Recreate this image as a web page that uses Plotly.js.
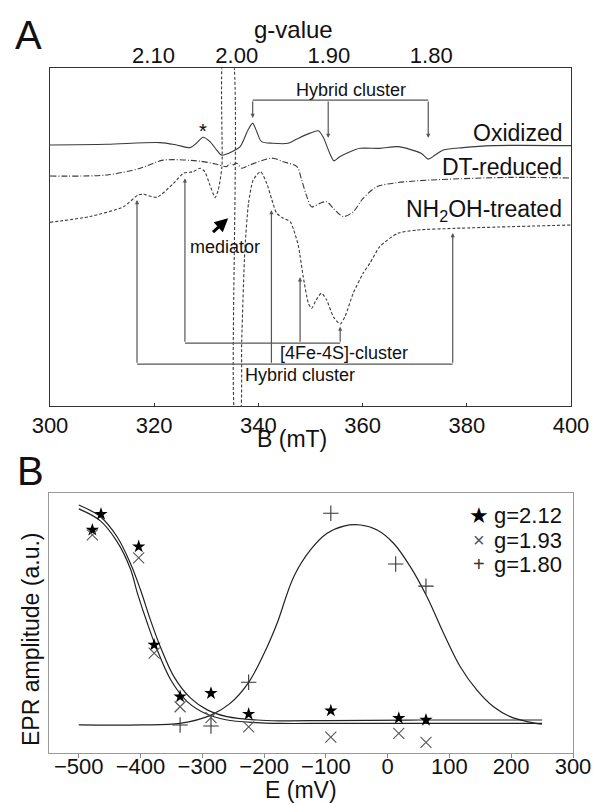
<!DOCTYPE html>
<html>
<head>
<meta charset="utf-8">
<script src="https://cdn.plot.ly/plotly-3.0.1.min.js"></script>
<style>html,body{margin:0;padding:0;background:#fff;}#chart{width:594px;height:803px;}</style>
</head>
<body>
<div id="chart"></div>
<script>
// ---------- Panel A: EPR spectra (B in mT, amplitude in a.u.) ----------
const oxB   = [300,310.9,321.1,324.3,326.9,328.1,329.4,330.7,332.0,332.9,333.9,334.9,336.5,338.0,338.9,339.7,340.6,342.8,345.7,347.3,349.9,351.5,352.4,353.7,354.5,355.6,357.6,359.5,363.3,366.7,369.1,371.3,372.6,373.9,375.5,379.3,384.8,400];
const oxAmp = [77.3,77.5,78.0,77.3,76.5,77.8,79.6,78.3,75.8,74.3,74.6,75.3,76.8,81.7,83.7,81.2,78.3,77.8,77.8,79.0,80.8,81.5,79.7,74.8,72.6,73.8,75.3,76.3,76.3,76.8,76.0,74.8,73.1,74.3,75.8,76.5,77.1,77.1];

const dtB   = [300,310.9,317.3,321.7,328.8,332.0,333.9,334.5,335.2,335.8,336.8,338.4,342.6,344.8,347.4,348.3,349.3,350.2,351.8,353.1,354.4,356.3,358.2,360.1,362.7,366.5,372.9,388.3,400];
const dtAmp = [68.1,68.4,70.4,72.8,72.5,71.6,70.9,71.9,71.4,71.9,70.4,71.4,73.4,72.3,70.9,66.9,62.0,59.0,60.0,60.5,58.5,56.1,57.5,61.5,64.9,66.1,66.9,67.7,67.5];

const nhB   = [300,307.7,314.1,316.9,317.9,320.5,323.7,325.6,327.5,328.8,329.7,330.7,331.7,332.3,333.0,333.4,334.9,335.6,336.4,336.8,337.4,338.1,339.0,340.4,341.6,342.6,343.5,344.8,346.1,347.0,347.7,348.6,349.6,350.2,351.1,352.1,353.1,354.4,355.7,356.6,358.2,360.1,361.4,363.3,366.7,370.4,377.6,400];
const nhAmp = [54.4,56.1,59.0,62.5,62.7,61.8,65.9,68.9,69.4,70.4,69.4,65.4,61.7,64.0,70.9,105.4,105.4,-4.1,-4.1,19.5,46.2,60.0,66.9,69.4,65.9,61.0,57.1,55.6,54.6,51.1,47.2,38.3,30.4,28.9,31.4,33.4,31.4,26.4,24.3,26.4,33.4,39.3,42.3,47.2,51.1,52.1,52.6,53.6];

const bTicks = [300,320,340,360,380,400];
const gValues = [2.10, 2.00, 1.90, 1.80];
const gTickText = ['2.10','2.00','1.90','1.80'];
const fieldTimesG = 671.7; // B (mT) * g at this microwave frequency

// ---------- Panel B: redox titration ----------
const eTicks = [-500,-400,-300,-200,-100,0,100,200,300];
const eStar = [-478,-464,-403,-378,-336,-286,-225,-92,18,62];
const ampStar = [85.9,92.0,79.5,41.7,21.8,23.1,15.1,16.4,13.5,12.8];
const eCross = [-478,-403,-378,-336,-286,-225,-92,18,62];
const ampCross = [84.0,75.2,38.5,17.9,13.7,10.2,6.2,7.7,4.2];
const ePlus = [-336,-286,-225,-92,13,62];
const ampPlus = [10.9,10.5,27.3,92.3,72.8,64.3];

const fitE1 = [-500,-465,-438,-416.5,-400,-384,-368,-346,-319,-292,-260,-211,-174,-100,50,250];
const fitA1 = [95.5,91.0,83.3,73.1,62.8,51.3,41.0,29.5,21.2,16.7,14.1,12.8,12.5,12.6,12.8,12.8];
const fitE2 = [-500,-465,-438,-416.5,-405,-389,-373,-351,-324,-294,-262,-213,-174,-100,50,250];
const fitA2 = [94.0,89.4,81.4,71.0,61.5,50.0,39.7,28.2,19.8,15.2,12.9,11.8,11.5,11.5,11.5,11.5];
const fitE3 = [-500,-400,-336,-286,-255,-225,-195,-179,-152,-125,-98,-71,-44,-17,9.5,36.6,63.6,90.5,117.5,144.5,171.4,198.4,225.4,249.7];
const fitA3 = [10.9,10.9,11.5,14.7,19.2,27.3,41.0,50.0,67.9,78.2,84.6,87.4,87.8,85.9,80.8,71.8,60.2,46.2,33.3,24.3,17.9,14.1,12.2,11.2];

const seriesNames = ['g=2.12','g=1.93','g=1.80'];
const legendGlyphs = ['\u2605','\u00D7','+'];
const seriesColors = ['#000','#555','#333'];

const W = 594, H = 803;
const px = v => v / W, py = v => 1 - v / H;
const FONT = 'Liberation Sans, Arial, sans-serif';
const LC = '#3a3a3a';

const traces = [
  {x: oxB, y: oxAmp, xaxis:'x', yaxis:'y', mode:'lines', line:{color:LC, width:1.1, shape:'spline', smoothing:0.8}, showlegend:false, hoverinfo:'skip'},
  {x: dtB, y: dtAmp, xaxis:'x', yaxis:'y', mode:'lines', line:{color:LC, width:1.1, dash:'6px,2px,1px,2px', shape:'spline', smoothing:0.8}, showlegend:false, hoverinfo:'skip'},
  {x: nhB, y: nhAmp, xaxis:'x', yaxis:'y', mode:'lines', line:{color:LC, width:1.1, dash:'3px,2px', shape:'spline', smoothing:0.6}, showlegend:false, hoverinfo:'skip'},
  {x: [300,400], y:[0,0], xaxis:'x2', yaxis:'y', mode:'lines', line:{width:0}, showlegend:false, hoverinfo:'skip'},
  {x: [-549,300], y:[0,0], xaxis:'x4', yaxis:'y2', mode:'lines', line:{width:0}, showlegend:false, hoverinfo:'skip'},
  {x: fitE1, y: fitA1, xaxis:'x3', yaxis:'y2', mode:'lines', line:{color:'#222', width:1.2, shape:'spline'}, showlegend:false, hoverinfo:'skip'},
  {x: fitE2, y: fitA2, xaxis:'x3', yaxis:'y2', mode:'lines', line:{color:'#222', width:1.2, shape:'spline'}, showlegend:false, hoverinfo:'skip'},
  {x: fitE3, y: fitA3, xaxis:'x3', yaxis:'y2', mode:'lines', line:{color:'#222', width:1.2, shape:'spline'}, showlegend:false, hoverinfo:'skip'},
  {x: eStar, y: ampStar, xaxis:'x3', yaxis:'y2', mode:'markers', name: seriesNames[0], showlegend:false, marker:{symbol:'star', size:10, color:seriesColors[0]}},
  {x: eCross, y: ampCross, xaxis:'x3', yaxis:'y2', mode:'markers', name: seriesNames[1], showlegend:false, marker:{symbol:'x-thin-open', size:11, color:seriesColors[1], line:{width:1.1, color:seriesColors[1]}}},
  {x: ePlus, y: ampPlus, xaxis:'x3', yaxis:'y2', mode:'markers', name: seriesNames[2], showlegend:false, marker:{symbol:'cross-thin-open', size:11, color:seriesColors[2], line:{width:1.1, color:seriesColors[2]}}}
];

const ann = [];
function txt(x, y, text, size, opts) {
  ann.push(Object.assign({x:x, y:y, text:text, showarrow:false, xanchor:'center', yanchor:'middle',
    font:{family:FONT, size:size, color:'#111'}}, opts||{}));
}
function arrow(xTip, yTip, xTail, yTail, opts) {
  ann.push(Object.assign({xref:'x', yref:'y', axref:'x', ayref:'y', x:xTip, y:yTip, ax:xTail, ay:yTail, text:'', showarrow:true,
    arrowhead:2, arrowsize:0.7, arrowwidth:1.2, arrowcolor:'#555'}, opts||{}));
}
const P = {xref:'paper', yref:'paper'};
// panel titles & axis titles (paper coords)
txt(px(28.5), py(35), 'A', 40, P);
txt(px(30), py(471), 'B', 40, P);
txt(px(293.6), py(29), 'g-value', 24, P);
txt(px(292), py(439), 'B (mT)', 23, P);
txt(px(301), py(790), 'E (mV)', 23, P);
txt(px(31), py(640), 'EPR amplitude (a.u.)', 23, Object.assign({textangle:-90}, P));

// legend (text entries)
const legRows = [515, 540, 564];
seriesNames.forEach((nm, i) => {
  txt(px(479), py(legRows[i]), legendGlyphs[i], 18,
      Object.assign({font:{family: i === 0 ? 'DejaVu Sans' : FONT, size: i === 0 ? 22 : 20, color: seriesColors[i]}}, P));
  txt(px(491.5), py(legRows[i]), nm, 22, Object.assign({xanchor:'left'}, P));
});

// spectrum labels
txt(398.7, 80.8, 'Oxidized', 23, {xref:'x', yref:'y', xanchor:'right'});
txt(398.7, 70.9, 'DT-reduced', 23, {xref:'x', yref:'y', xanchor:'right'});
txt(398.7, 57.8, 'NH<sub>2</sub>OH-treated', 23, {xref:'x', yref:'y', xanchor:'right'});
txt(329.4, 81.5, '*', 20, {xref:'x', yref:'y', font:{family:FONT, size:20, color:'#000'}});

// top Hybrid cluster bracket
txt(357.8, 93.6, 'Hybrid cluster', 18, {xref:'x', yref:'y'});
arrow(338.9, 85.3, 338.9, 90.6);
arrow(353.4, 79.4, 353.4, 90.6);
arrow(372.6, 79.4, 372.6, 90.6);
// lower [4Fe-4S] bracket
arrow(325.9, 67.4, 325.9, 18.6);
arrow(348.0, 38.1, 348.0, 18.6);
arrow(355.7, 23.5, 355.7, 18.6);
txt(356.4, 15.8, '[4Fe-4S]-cluster', 18, {xref:'x', yref:'y'});
// lower Hybrid cluster bracket
arrow(316.7, 61.0, 316.7, 12.4);
arrow(342.5, 58.0, 342.5, 12.4);
arrow(377.3, 51.2, 377.3, 12.4);
txt(347.9, 9.2, 'Hybrid cluster', 18, {xref:'x', yref:'y'});
// mediator
arrow(334.2, 55.6, 331.0, 51.1, {arrowcolor:'#000', arrowwidth:3, arrowsize:0.9, arrowhead:2});
txt(333.6, 47.0, 'mediator', 18, {xref:'x', yref:'y'});

const shapes = [
  {type:'line', xref:'x', yref:'y', x0:338.9, x1:372.6, y0:90.6, y1:90.6, line:{color:'#555', width:1.2}},
  {type:'line', xref:'x', yref:'y', x0:325.9, x1:355.7, y0:18.6, y1:18.6, line:{color:'#555', width:1.2}},
  {type:'line', xref:'x', yref:'y', x0:316.7, x1:377.3, y0:12.4, y1:12.4, line:{color:'#555', width:1.2}}
];

const tickFont = {family:FONT, size:22, color:'#111'};
const layout = {
  width:W, height:H, margin:{l:0,r:0,t:0,b:0}, paper_bgcolor:'#fff', plot_bgcolor:'#fff',
  font:{family:FONT, color:'#111'}, showlegend:false,
  xaxis:{domain:[px(50), px(571)], range:[300,400], anchor:'y', tickvals:bTicks, ticks:'inside', ticklen:3, tickcolor:'#333',
    showline:true, mirror:true, linecolor:'#333', linewidth:1, showgrid:false, zeroline:false, tickfont:tickFont},
  xaxis2:{overlaying:'x', side:'top', anchor:'free', position:py(67), range:[300,400], tickvals: gValues.map(g => fieldTimesG / g), ticktext: gTickText,
    ticks:'', showline:false, showgrid:false, zeroline:false, tickfont:tickFont},
  yaxis:{domain:[py(406), py(68.3)], range:[0,100], anchor:'x', showticklabels:false, ticks:'', showline:true, mirror:true,
    linecolor:'#333', linewidth:1, showgrid:false, zeroline:false},
  xaxis3:{domain:[px(48.5), px(573)], range:[-549,300], anchor:'y2', tickvals:eTicks, showticklabels:false,
    ticks:'outside', ticklen:4, tickcolor:'#888', showline:true, mirror:true, linecolor:'#999', linewidth:1,
    showgrid:false, zeroline:false},
  xaxis4:{overlaying:'x3', side:'bottom', anchor:'free', position:py(750.5), range:[-549,300], tickvals:eTicks,
    ticks:'', showline:false, showgrid:false, zeroline:false, tickfont:tickFont},
  yaxis2:{domain:[py(753.3), py(493.3)], range:[0,100], anchor:'x3', showticklabels:false, ticks:'', showline:true, mirror:true,
    linecolor:'#999', linewidth:1, showgrid:false, zeroline:false},
  annotations: ann, shapes: shapes
};

Plotly.newPlot('chart', traces, layout, {staticPlot:true, displayModeBar:false});
</script>
</body>
</html>
